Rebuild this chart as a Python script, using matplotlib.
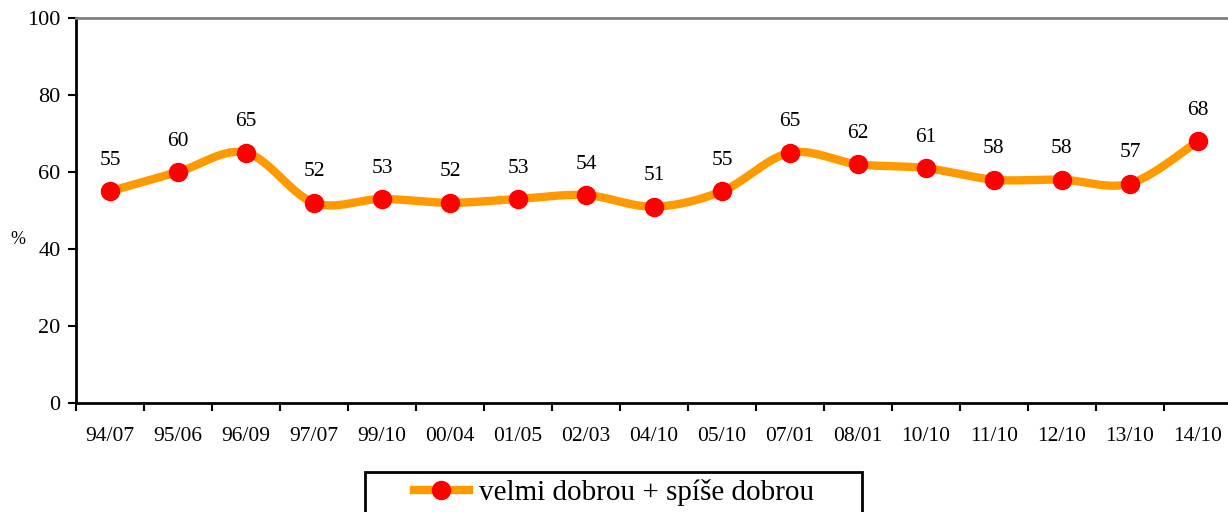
import numpy as np
import matplotlib.pyplot as plt
from matplotlib.patches import Rectangle

# Daten
labels = ['94/07', '95/06', '96/09', '97/07', '99/10', '00/04', '01/05', '02/03',
          '04/10', '05/10', '07/01', '08/01', '10/10', '11/10', '12/10', '13/10', '14/10']
values = [55, 60, 65, 52, 53, 52, 53, 54, 51, 55, 65, 62, 61, 58, 58, 57, 68]
series_name = 'velmi dobrou + spíše dobrou'

plt.rcParams['font.family'] = ['Liberation Serif', 'DejaVu Serif']


def smooth(x, y, n=30):
    # Catmull-Rom Spline (wie Excel "geglättete Linie")
    px = np.concatenate([[x[0]], x, [x[-1]]])
    py = np.concatenate([[y[0]], y, [y[-1]]])
    xs, ys = [], []
    t = np.linspace(0, 1, n)
    for i in range(1, len(px) - 2):
        for p, out in ((px, xs), (py, ys)):
            p0, p1, p2, p3 = p[i - 1], p[i], p[i + 1], p[i + 2]
            out.extend(0.5 * (2 * p1 + (-p0 + p2) * t
                              + (2 * p0 - 5 * p1 + 4 * p2 - p3) * t ** 2
                              + (-p0 + 3 * p1 - 3 * p2 + p3) * t ** 3))
    return np.array(xs), np.array(ys)


x = np.arange(len(values), dtype=float)
y = np.array(values, dtype=float)
sx, sy = smooth(x, y)

fig = plt.figure(figsize=(12.28, 5.12), dpi=100)
ax = fig.add_axes([76 / 1228, 1 - 403 / 512, 1156 / 1228, 385 / 512])

ax.plot(sx, sy, color='#ff9900', linewidth=6, solid_capstyle='round', zorder=2)
ax.plot(x, y, linestyle='none', marker='o', markersize=13, color='#ff0000', zorder=3)
handle, = ax.plot([], [], color='#ff9900', linewidth=6, marker='o', markersize=13,
                  markerfacecolor='#ff0000', markeredgecolor='#ff0000')

for xi, yi in zip(x, values):
    ax.annotate(str(yi), (xi, yi), xytext=(0, 19), textcoords='offset points',
                ha='center', va='baseline', fontsize=15.5)

ax.set_xlim(-0.5, len(values) - 0.5)
ax.set_ylim(0, 100)
ax.set_yticks(range(0, 101, 20))
ax.set_xticks(x)
ax.set_xticklabels(labels)
ax.set_xticks(np.arange(-0.5, len(values), 1.0), minor=True)
ax.tick_params(axis='x', which='major', length=0, pad=17, labelsize=15.5)
ax.tick_params(axis='x', which='minor', length=6, width=1.5, direction='out')
ax.tick_params(axis='y', length=6, width=1.5, labelsize=16, pad=5)

ax.spines['left'].set_linewidth(2)
ax.spines['bottom'].set_linewidth(2)
ax.spines['top'].set_color('#808080')
ax.spines['top'].set_linewidth(2)
ax.spines['right'].set_visible(False)

fig.text(18 / 1228, 1 - 240 / 512, '%', fontsize=13, ha='center', va='center')

# Legendenrahmen (unten abgeschnitten)
fig.patches.append(Rectangle((365 / 1228, -0.05), 497 / 1228, 0.05 + 40 / 512,
                             transform=fig.transFigure, fill=False,
                             edgecolor='black', linewidth=2))
fig.legend([handle], [series_name], loc='center',
           bbox_to_anchor=(614 / 1228, 1 - 493 / 512), fontsize=21,
           frameon=False, handlelength=1.9, handletextpad=0.35, borderpad=0,
           borderaxespad=0)

fig.savefig('out.png', dpi=100)
